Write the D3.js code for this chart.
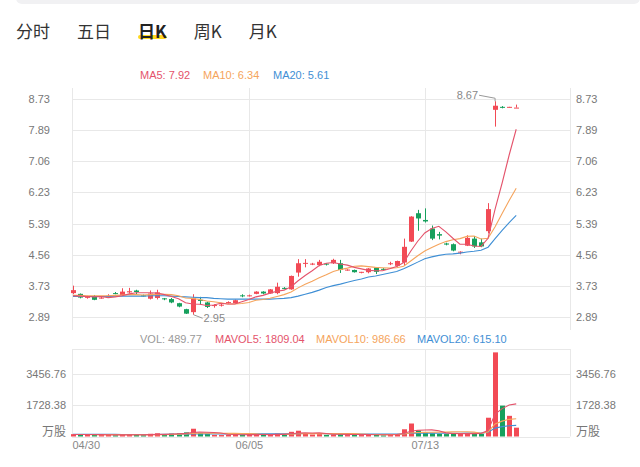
<!DOCTYPE html>
<html><head><meta charset="utf-8">
<script src="https://cdn.jsdelivr.net/npm/d3@7"></script>
<style>html,body{margin:0;padding:0;background:#fff;}svg{display:block}</style>
</head><body><svg id="c" width="640" height="467"></svg>
<script>
const tabs = ["分时","五日","日K","周K","月K"];
const activeTab = "日K";
const dates = ["04/30","05/04","05/05","05/06","05/07","05/08","05/11","05/12","05/13","05/14","05/15","05/18","05/19","05/20","05/21","05/22","05/25","05/26","05/27","05/28","05/29","06/01","06/02","06/03","06/04","06/05","06/08","06/09","06/10","06/11","06/12","06/15","06/16","06/17","06/18","06/19","06/23","06/24","06/25","06/26","06/29","06/30","07/01","07/02","07/03","07/06","07/07","07/08","07/09","07/10","07/13","07/14","07/15","07/16","07/17","07/20","07/21","07/22","07/23","07/24","07/27","07/28","07/29","07/30"];
const opens  = [3.53,3.51,3.41,3.43,3.40,3.44,3.53,3.48,3.55,3.60,3.47,3.38,3.40,3.39,3.37,3.26,3.10,3.02,3.35,3.28,3.19,3.20,3.27,3.26,3.47,3.45,3.51,3.57,3.52,3.53,3.67,3.63,4.08,4.32,4.30,4.28,4.32,4.33,4.33,4.14,4.15,4.08,4.09,4.21,4.18,4.31,4.26,4.35,4.91,5.67,5.49,5.26,5.11,4.86,4.84,4.62,4.80,4.99,4.89,5.19,8.44,8.52,8.50,8.50];
const highs  = [3.73,3.52,3.46,3.48,3.44,3.50,3.56,3.66,3.67,3.62,3.49,3.60,3.62,3.40,3.40,3.27,3.11,3.50,3.43,3.30,3.23,3.25,3.31,3.36,3.50,3.49,3.58,3.58,3.64,3.81,3.69,4.00,4.44,4.44,4.34,4.42,4.33,4.45,4.42,4.17,4.16,4.10,4.20,4.23,4.20,4.37,4.40,4.99,5.59,5.76,5.80,5.34,5.17,4.88,4.86,4.65,5.08,5.06,4.99,5.94,8.67,8.54,8.52,8.58];
const lows   = [3.50,3.39,3.38,3.34,3.38,3.42,3.50,3.47,3.52,3.50,3.44,3.36,3.36,3.34,3.26,3.15,2.97,2.95,3.22,3.13,3.14,3.17,3.25,3.25,3.42,3.44,3.50,3.50,3.51,3.50,3.63,3.62,3.97,4.22,4.28,4.25,4.27,4.31,4.07,4.13,4.08,4.06,4.06,4.04,4.15,4.28,4.24,4.28,4.90,5.20,5.42,4.95,4.97,4.81,4.65,4.57,4.79,4.74,4.76,5.13,7.99,8.48,8.50,8.50];
const closes = [3.61,3.41,3.43,3.35,3.41,3.46,3.52,3.57,3.58,3.56,3.46,3.52,3.55,3.37,3.28,3.17,2.98,3.39,3.32,3.16,3.21,3.22,3.29,3.34,3.46,3.47,3.57,3.52,3.63,3.70,3.65,3.99,4.33,4.34,4.32,4.37,4.30,4.42,4.15,4.16,4.09,4.10,4.19,4.10,4.17,4.33,4.39,4.77,5.58,5.53,5.45,4.99,5.07,4.83,4.67,4.64,5.01,4.78,4.78,5.78,8.55,8.51,8.52,8.50];
const ma5  = [3.46,3.45,3.44,3.43,3.44,3.41,3.43,3.46,3.51,3.54,3.54,3.54,3.53,3.49,3.44,3.38,3.27,3.24,3.23,3.20,3.21,3.26,3.24,3.24,3.30,3.36,3.43,3.47,3.53,3.58,3.61,3.70,3.86,4.00,4.13,4.27,4.33,4.35,4.31,4.28,4.22,4.18,4.14,4.13,4.13,4.18,4.24,4.35,4.65,4.92,5.14,5.26,5.32,5.17,5.00,4.84,4.84,4.79,4.78,5.00,5.78,6.48,7.23,7.92];
const ma10 = [3.47,3.47,3.46,3.46,3.46,3.46,3.47,3.48,3.49,3.49,3.48,3.49,3.50,3.50,3.49,3.46,3.40,3.39,3.36,3.32,3.30,3.27,3.24,3.24,3.25,3.28,3.34,3.36,3.39,3.44,3.49,3.56,3.67,3.77,3.85,3.94,4.02,4.11,4.16,4.20,4.25,4.26,4.24,4.22,4.21,4.20,4.21,4.25,4.39,4.53,4.66,4.75,4.84,4.91,4.96,4.99,5.05,5.06,4.98,5.00,5.31,5.66,6.01,6.34];
const ma20 = [3.44,3.44,3.44,3.44,3.44,3.44,3.45,3.45,3.45,3.45,3.45,3.46,3.46,3.46,3.45,3.44,3.43,3.42,3.41,3.41,3.39,3.38,3.37,3.37,3.37,3.37,3.37,3.37,3.37,3.38,3.39,3.41,3.45,3.50,3.55,3.61,3.68,3.73,3.77,3.82,3.87,3.91,3.96,3.99,4.03,4.07,4.11,4.18,4.27,4.36,4.45,4.50,4.54,4.57,4.58,4.60,4.63,4.65,4.68,4.76,4.99,5.21,5.42,5.61];
const volumes = [130,110,90,120,80,90,70,120,100,90,70,150,180,110,160,180,230,430,200,150,90,80,90,130,110,90,110,100,120,160,110,260,320,190,110,130,90,120,160,80,110,80,110,120,60,120,140,400,720,330,210,180,150,135,150,180,170,170,152,1040,4660,1710,1145,489.77];
const mavol5  = [110,110,110,110,106,98,90,96,92,94,90,106,118,120,134,156,172,222,240,238,220,190,122,108,100,110,106,108,106,116,120,150,194,208,198,202,168,128,122,116,112,110,108,100,96,98,110,168,288,342,360,368,318,201,165,159,157,161,164,342,1238,1546,1741,1809.04];
const mavol10 = [110,110,108,106,105,104,102,101,100,100,94,98,107,106,114,123,139,170,180,186,188,181,172,174,169,165,148,115,107,108,115,128,151,157,157,161,159,161,165,157,157,139,118,111,106,105,110,138,194,219,229,239,243,245,254,260,263,240,183,254,699,852,951,986.66];
const mavol20 = [120,120,119,118,117,116,115,114,113,112,111,110,112,115,120,125,130,136,140,143,141,140,140,140,142,144,144,143,144,147,152,155,162,166,163,163,154,138,136,133,136,134,135,134,132,133,135,150,180,188,193,189,181,178,180,183,187,189,189,237,464,546,597,615.10];
const priceTicks = [2.89,3.73,4.56,5.39,6.23,7.06,7.89,8.73];
const volTicks = [0,1728.38,3456.76];
const volUnit = "万股";
const dateTicks = ["04/30","06/05","07/13"];

const UP = "#f24a55", DOWN = "#17a05d";
const C5 = "#e4536b", C10 = "#f5a45c", C20 = "#3f8fd5";
const GRID = "#e8e8e8", AXIS_TXT = "#777";
const NUMFONT = "'Liberation Sans', Arial, sans-serif";
const CJK = "'Noto Sans CJK SC', sans-serif";

const svg = d3.select("#c");
const L = 72, R = 570;

svg.append("rect").attr("x",16).attr("y",-12).attr("width",624).attr("height",16).attr("rx",6).attr("fill","#f1f1f3");

let tx = 16;
tabs.forEach(t => {
  const g = svg.append("g");
  const hl = g.append("rect");
  const txt = g.append("text").attr("x", tx).attr("y", 38)
    .attr("font-family", CJK).attr("font-size", 17)
    .attr("font-weight", t === activeTab ? 700 : 400)
    .attr("fill", t === activeTab ? "#222" : "#333").text(t);
  const w = txt.node().getComputedTextLength();
  if (t === activeTab) hl.attr("x", tx).attr("y", 35).attr("width", w).attr("height", 4).attr("rx", 2).attr("fill", "#ffd81e");
  else hl.remove();
  tx += w + 27;
});

const x = d3.scalePoint().domain(dates).range([73, 73 + 63*7.035]);
const y = d3.scaleLinear().domain([2.89, 8.73]).range([317, 99]);
const yv = d3.scaleLinear().domain([0, 1728.38]).range([436.5, 405.3]);

const mainTop = 88, mainBot = 330;
const volTop = 349, volBot = 436.5;
function vline(xx, y0, y1, c){ svg.append("line").attr("x1",xx).attr("x2",xx).attr("y1",y0).attr("y2",y1).attr("stroke",c).attr("stroke-width",1); }
vline(L+0.5, mainTop, mainBot, GRID); vline(R+0.5, mainTop, mainBot, GRID);
vline(L+0.5, volTop, volBot, GRID); vline(R+0.5, volTop, volBot, GRID);
svg.append("g").selectAll("line").data(priceTicks).join("line")
  .attr("x1",L).attr("x2",R).attr("y1",d=>Math.round(y(d))+0.5).attr("y2",d=>Math.round(y(d))+0.5)
  .attr("stroke",GRID);
svg.append("g").selectAll("line").data(volTicks).join("line")
  .attr("x1",L).attr("x2",R).attr("y1",d=>Math.round(yv(d))+0.5).attr("y2",d=>Math.round(yv(d))+0.5)
  .attr("stroke",GRID);
svg.append("line").attr("x1",L).attr("x2",R).attr("y1",volTop+0.5).attr("y2",volTop+0.5).attr("stroke",GRID);
dateTicks.slice(1).forEach(d => { vline(Math.round(x(d))+0.5, mainTop, mainBot, GRID); vline(Math.round(x(d))+0.5, volTop, volBot, GRID); });

const fmt = d3.format(".2f");
const axL = d3.axisLeft(y).tickValues(priceTicks).tickFormat(fmt).tickSize(0).tickPadding(0);
const axR = d3.axisRight(y).tickValues(priceTicks).tickFormat(fmt).tickSize(0).tickPadding(0);
function styleAxis(g){ g.select(".domain").remove(); g.selectAll("text").attr("font-family",NUMFONT).attr("font-size",11).attr("fill",AXIS_TXT); }
svg.append("g").attr("transform","translate(50,0)").call(axL).call(styleAxis);
svg.append("g").attr("transform","translate(576,0)").call(axR).call(styleAxis);

const vfmt = d => d === 0 ? volUnit : fmt(d);
const vaxL = d3.axisLeft(yv).tickValues(volTicks).tickFormat(vfmt).tickSize(0).tickPadding(0);
const vaxR = d3.axisRight(yv).tickValues(volTicks).tickFormat(vfmt).tickSize(0).tickPadding(0);
function styleV(g){ styleAxis(g); g.selectAll(".tick").filter(d=>d===0).select("text").attr("dy","-0.05em").attr("font-family",CJK).attr("font-size",12); }
svg.append("g").attr("transform","translate(66,0)").call(vaxL).call(styleV);
svg.append("g").attr("transform","translate(576,0)").call(vaxR).call(styleV);

const xa = d3.axisBottom(x).tickValues(dateTicks).tickSize(0).tickPadding(0);
svg.append("g").attr("transform","translate(0,441)").call(xa).call(g=>{
  g.select(".domain").remove();
  g.selectAll("text").attr("font-family",NUMFONT).attr("font-size",11).attr("fill","#888")
    .attr("text-anchor", d => d === dateTicks[0] ? "start" : "middle")
    .attr("dx", d => d === dateTicks[0] ? (L - x(d)) + "px" : 0);
});

const idx = d3.range(dates.length);
const isUp = i => closes[i] >= opens[i];
const bw = 5;
const cg = svg.append("g");
cg.selectAll("line").data(idx).join("line")
  .attr("x1", i => Math.round(x(dates[i]))+0.5).attr("x2", i => Math.round(x(dates[i]))+0.5)
  .attr("y1", i => y(highs[i])).attr("y2", i => y(lows[i]))
  .attr("stroke", i => isUp(i) ? UP : DOWN).attr("stroke-width",1);
cg.selectAll("rect").data(idx).join("rect")
  .attr("x", i => Math.round(x(dates[i])) - 2)
  .attr("width", bw)
  .attr("y", i => y(Math.max(opens[i], closes[i])))
  .attr("height", i => Math.max(1, Math.abs(y(opens[i]) - y(closes[i]))))
  .attr("fill", i => isUp(i) ? UP : DOWN);

const line = arr => d3.line().x((d,i)=>x(dates[i])).y(d=>y(d))(arr);
[[ma20,C20],[ma10,C10],[ma5,C5]].forEach(([a,c]) =>
  svg.append("path").attr("d", line(a)).attr("fill","none").attr("stroke",c).attr("stroke-width",1.1));

const hiI = d3.maxIndex(highs), loI = d3.minIndex(lows);
const hx = x(dates[hiI]), hy = y(highs[hiI]);
svg.append("polyline").attr("points", `${hx-16},${hy-6} ${hx},${hy-3} ${hx},${hy}`).attr("fill","none").attr("stroke","#999");
svg.append("text").attr("x", hx-17).attr("y", hy-2.5).attr("text-anchor","end").attr("font-family",NUMFONT).attr("font-size",11).attr("fill","#888").text(fmt(highs[hiI]));
const lx = x(dates[loI]), ly = y(lows[loI]);
svg.append("line").attr("x1", lx+1).attr("y1", ly).attr("x2", lx+10).attr("y2", ly+3.5).attr("stroke","#999");
svg.append("text").attr("x", lx+11).attr("y", ly+7.5).attr("font-family",NUMFONT).attr("font-size",11).attr("fill","#888").text(fmt(lows[loI]));

const leg = [["MA5: ", ma5, C5, 140], ["MA10: ", ma10, C10, 203], ["MA20: ", ma20, C20, 273]];
leg.forEach(([n,a,c,lx0]) => svg.append("text").attr("x",lx0).attr("y",79).attr("font-family",NUMFONT).attr("font-size",11).attr("fill",c).text(n + fmt(a[a.length-1])));

const vg = svg.append("g");
vg.selectAll("rect").data(idx).join("rect")
  .attr("x", i => Math.round(x(dates[i])) - 2).attr("width", bw)
  .attr("y", i => yv(volumes[i])).attr("height", i => Math.max(1, yv(0) - yv(volumes[i])))
  .attr("fill", i => isUp(i) ? UP : DOWN);
const vline2 = arr => d3.line().x((d,i)=>x(dates[i])).y(d=>yv(d))(arr);
[[mavol20,C20],[mavol10,C10],[mavol5,C5]].forEach(([a,c]) =>
  svg.append("path").attr("d", vline2(a)).attr("fill","none").attr("stroke",c).attr("stroke-width",1.1));

const vleg = [["VOL: ", volumes, "#999", 140], ["MAVOL5: ", mavol5, C5, 215], ["MAVOL10: ", mavol10, C10, 316], ["MAVOL20: ", mavol20, C20, 417]];
vleg.forEach(([n,a,c,lx0]) => svg.append("text").attr("x",lx0).attr("y",343).attr("font-family",NUMFONT).attr("font-size",11).attr("fill",c).text(n + fmt(a[a.length-1])));
</script></body></html>
